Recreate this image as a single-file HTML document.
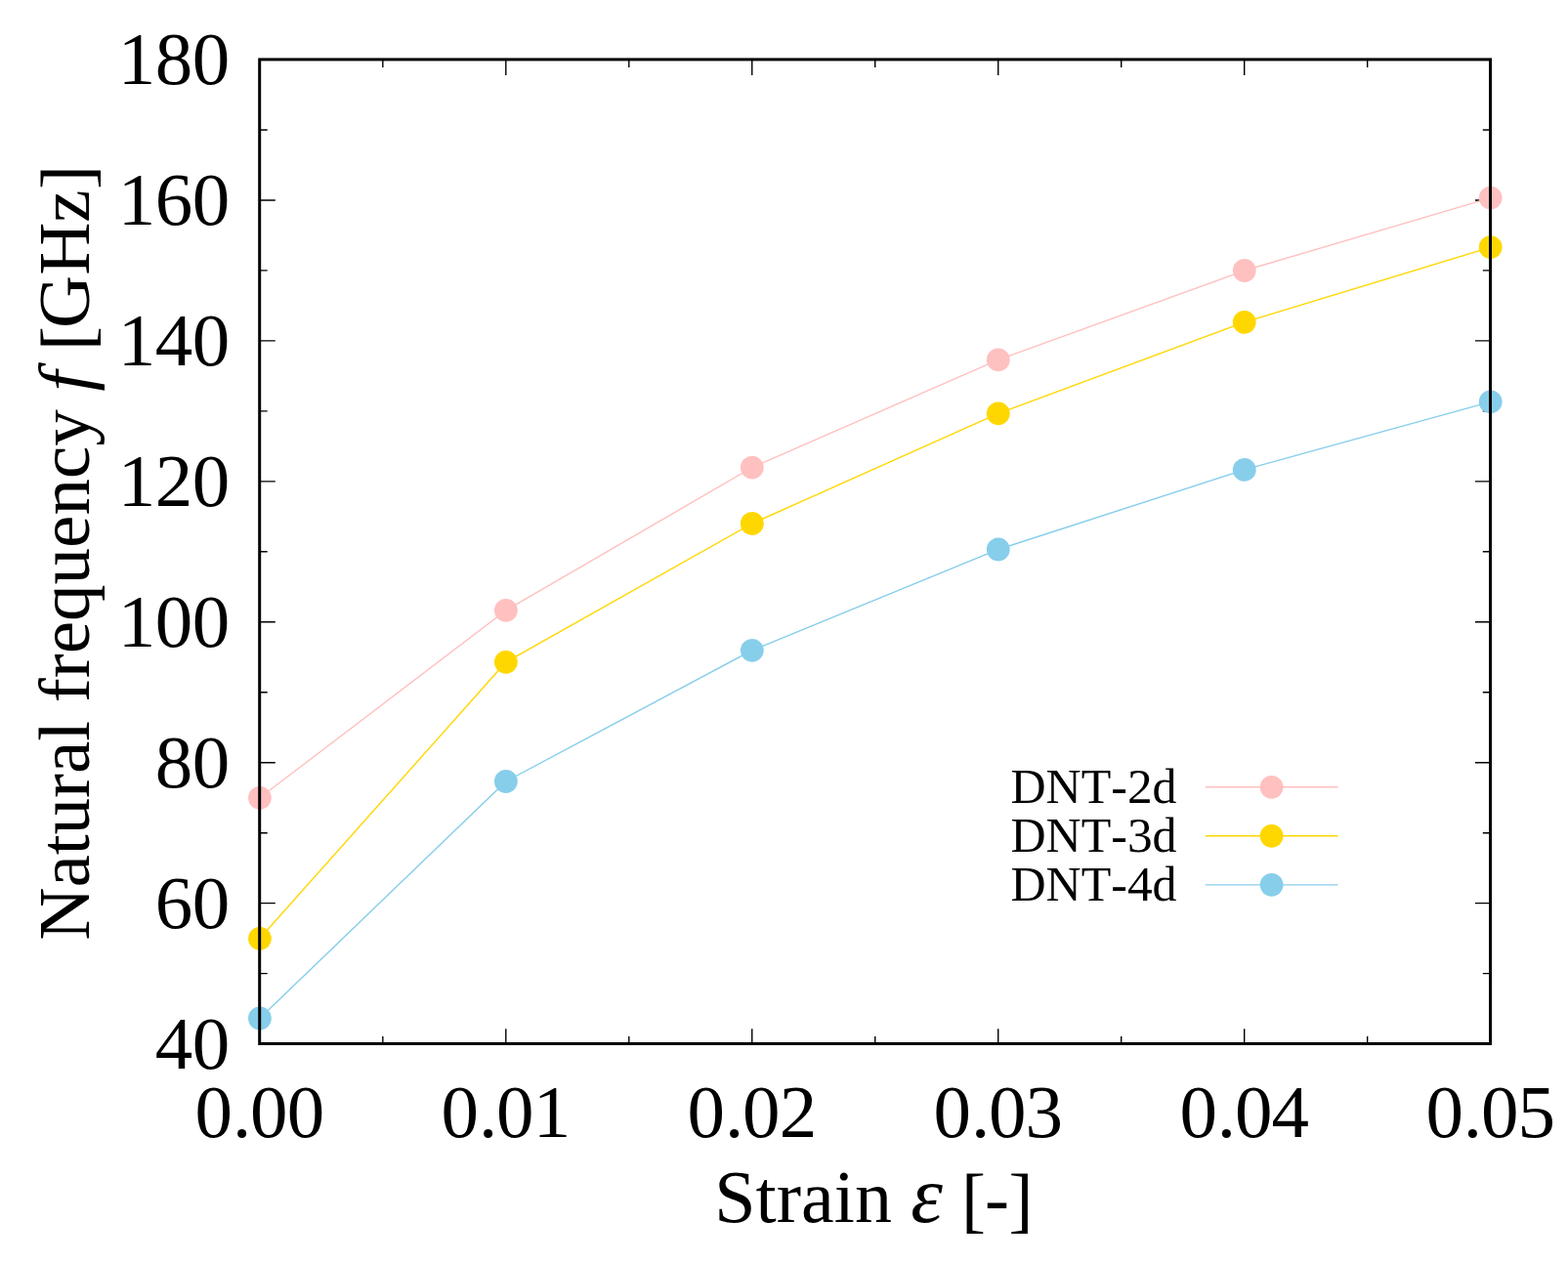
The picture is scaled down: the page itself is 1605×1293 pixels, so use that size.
<!DOCTYPE html>
<html lang="en">
<head>
<meta charset="utf-8">
<title>Natural frequency vs strain</title>
<style>
html,body{margin:0;padding:0;background:#fff;}
body{width:1605px;height:1293px;overflow:hidden;}
svg{display:block;}
text{font-family:"Liberation Serif","DejaVu Serif",serif;fill:#000;font-kerning:none;}
.tk{font-size:77px;letter-spacing:0px;}
.ky{font-size:50px;}
.ky tspan{font-size:51.4px;}
.lb{font-size:75px;}
.i{font-style:italic;}
</style>
</head>
<body>
<svg width="1605" height="1293" viewBox="0 0 1605 1293">
<rect x="0" y="0" width="1605" height="1293" fill="#ffffff"/>
<g stroke="#000" stroke-width="1.4" fill="none" stroke-linecap="butt">
<path d="M265.7 1068.6h16.1 M1525.5 1068.6h-15.6 M265.7 996.63h8 M1525.5 996.63h-7.7 M265.7 924.66h16.1 M1525.5 924.66h-15.6 M265.7 852.69h8 M1525.5 852.69h-7.7 M265.7 780.71h16.1 M1525.5 780.71h-15.6 M265.7 708.74h8 M1525.5 708.74h-7.7 M265.7 636.77h16.1 M1525.5 636.77h-15.6 M265.7 564.8h8 M1525.5 564.8h-7.7 M265.7 492.83h16.1 M1525.5 492.83h-15.6 M265.7 420.86h8 M1525.5 420.86h-7.7 M265.7 348.89h16.1 M1525.5 348.89h-15.6 M265.7 276.91h8 M1525.5 276.91h-7.7 M265.7 204.94h16.1 M1525.5 204.94h-15.6 M265.7 132.97h8 M1525.5 132.97h-7.7 M265.7 61h16.1 M1525.5 61h-15.6 M265.85 1068.5v-15.3 M265.85 60.9v16 M391.83 1068.5v-7.5 M391.83 60.9v8 M517.81 1068.5v-15.3 M517.81 60.9v16 M643.79 1068.5v-7.5 M643.79 60.9v8 M769.77 1068.5v-15.3 M769.77 60.9v16 M895.75 1068.5v-7.5 M895.75 60.9v8 M1021.73 1068.5v-15.3 M1021.73 60.9v16 M1147.71 1068.5v-7.5 M1147.71 60.9v8 M1273.69 1068.5v-15.3 M1273.69 60.9v16 M1399.67 1068.5v-7.5 M1399.67 60.9v8 M1525.65 1068.5v-15.3 M1525.65 60.9v16"/>
</g>
<g class="tk">
<text x="158.65 196.65" y="1093.9">40</text>
<text x="158.65 196.65" y="949.96">60</text>
<text x="158.65 196.65" y="806.01">80</text>
<text x="120.65 158.65 196.65" y="662.07">100</text>
<text x="120.65 158.65 196.65" y="518.13">120</text>
<text x="120.65 158.65 196.65" y="374.19">140</text>
<text x="120.65 158.65 196.65" y="230.24">160</text>
<text x="120.65 158.65 196.65" y="86.3">180</text>
<text x="199.57 238.02 256.12 293.72" y="1164.4">0.00</text>
<text x="451.53 489.98 508.08 545.68" y="1164.4">0.01</text>
<text x="703.49 741.94 760.04 797.64" y="1164.4">0.02</text>
<text x="955.45 993.9 1012 1049.61" y="1164.4">0.03</text>
<text x="1207.41 1245.87 1263.96 1301.57" y="1164.4">0.04</text>
<text x="1459.38 1497.83 1515.92 1553.53" y="1164.4">0.05</text>
</g>
<text class="lb" y="1251"><tspan x="731.35" style="font-size:76px">Strain</tspan> <tspan x="932.35" class="i" style="font-size:83px">ε</tspan> <tspan x="984" dy="2">[</tspan><tspan x="1008.1" dy="-1">-</tspan><tspan x="1032.4" dy="1">]</tspan></text>
<text class="lb" transform="translate(91.4 566.1) rotate(-90)"><tspan x="-396.7" y="0">Natural frequency</tspan> <tspan x="165.5" class="i">f</tspan> <tspan x="207" dy="1.75">[</tspan><tspan x="230.1" dy="-1.75">GHz</tspan><tspan x="372.2" dy="1.75">]</tspan></text>
<g class="ky" text-anchor="end">
<text x="1204.6" y="821.8">DNT-<tspan>2</tspan>d</text>
<text x="1204.6" y="871.8">DNT-<tspan>3</tspan>d</text>
<text x="1204.6" y="921.8">DNT-<tspan>4</tspan>d</text>
</g>
<g stroke="#ffc0c0" stroke-width="1.4" fill="none">
<path d="M1233.8 805.8H1369.6"/>
<polyline points="265.9,816.8 517.86,624.9 769.82,478.6 1021.78,368.3 1273.74,277 1525.7,202.6"/>
</g>
<g fill="#ffc0c0" stroke="none">
<circle cx="1301.6" cy="805.8" r="11.9"/>
<circle cx="265.9" cy="816.8" r="11.9"/>
<circle cx="517.86" cy="624.9" r="11.9"/>
<circle cx="769.82" cy="478.6" r="11.9"/>
<circle cx="1021.78" cy="368.3" r="11.9"/>
<circle cx="1273.74" cy="277" r="11.9"/>
<circle cx="1525.7" cy="202.6" r="11.9"/>
</g>
<g stroke="#ffd700" stroke-width="1.4" fill="none">
<path d="M1233.8 855.8H1369.6"/>
<polyline points="265.9,960.8 517.86,677.8 769.82,536 1021.78,423.3 1273.74,329.8 1525.7,253.2"/>
</g>
<g fill="#ffd700" stroke="none">
<circle cx="1301.6" cy="855.8" r="11.9"/>
<circle cx="265.9" cy="960.8" r="11.9"/>
<circle cx="517.86" cy="677.8" r="11.9"/>
<circle cx="769.82" cy="536" r="11.9"/>
<circle cx="1021.78" cy="423.3" r="11.9"/>
<circle cx="1273.74" cy="329.8" r="11.9"/>
<circle cx="1525.7" cy="253.2" r="11.9"/>
</g>
<g stroke="#87ceeb" stroke-width="1.4" fill="none">
<path d="M1233.8 905.85H1369.6"/>
<polyline points="265.9,1042.5 517.86,800 769.82,665.8 1021.78,562.5 1273.74,480.95 1525.7,411.4"/>
</g>
<g fill="#87ceeb" stroke="none">
<circle cx="1301.6" cy="905.85" r="11.9"/>
<circle cx="265.9" cy="1042.5" r="11.9"/>
<circle cx="517.86" cy="800" r="11.9"/>
<circle cx="769.82" cy="665.8" r="11.9"/>
<circle cx="1021.78" cy="562.5" r="11.9"/>
<circle cx="1273.74" cy="480.95" r="11.9"/>
<circle cx="1525.7" cy="411.4" r="11.9"/>
</g>
<rect x="265.7" y="60.9" width="1259.8" height="1007.6" fill="none" stroke="#000" stroke-width="3" stroke-linejoin="miter"/>
</svg>
</body>
</html>
